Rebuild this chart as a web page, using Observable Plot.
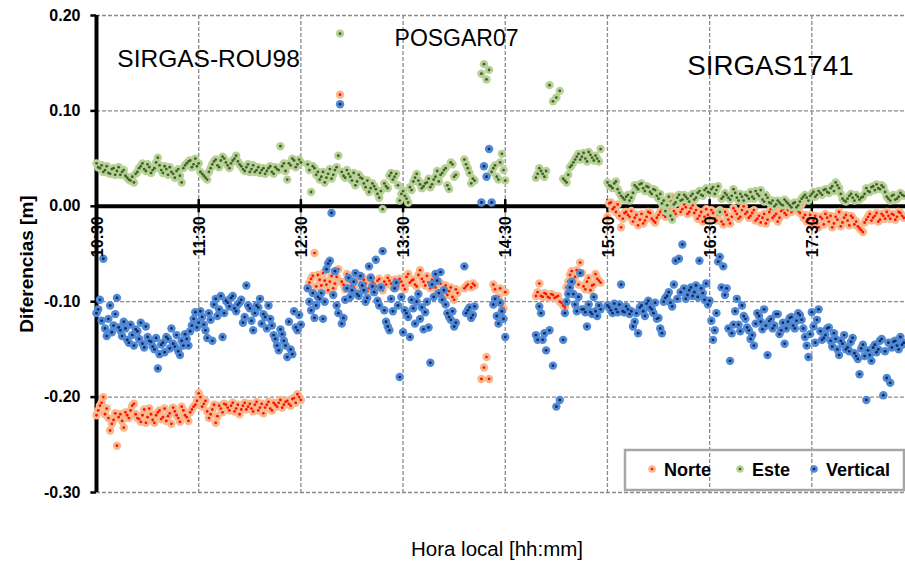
<!DOCTYPE html>
<html><head><meta charset="utf-8">
<script src="https://cdn.jsdelivr.net/npm/d3@7"></script>
<script src="https://cdn.jsdelivr.net/npm/@observablehq/plot@0.6"></script>
<style>body{margin:0;background:#fff}#chart{width:905px;height:565px}</style>
</head><body><div id="chart"></div>
<script>
// epochs: minutes after 10:30 local time (even-minute block)
const times = [
0,2,4,6,8,10,12,14,16,18,20,22,24,26,28,30,32,34,36,38,40,42,44,46,48,50,52,54,56,58,60,
62,64,66,68,70,72,74,76,78,80,82,84,86,88,90,92,94,96,98,100,102,104,106,108,110,112,114,116,118,120,
124,126,128,130,132,134,136,138,140,142,143,144,146,148,150,152,154,156,158,160,162,164,166,168,170,
172,174,176,178,180,182,184,186,188,190,192,194,196,198,200,202,204,206,208,210,212,214,216,218,220,
222,224,226,227.5,229,230.5,232,234,236,238,240,258,260,262,264,266,268,270,272,274,276,278,280,282,
284,286,288,290,292,294,296,
300,302,304,306,308,310,312,314,316,318,320,322,324,326,328,330,332,334,336,338,340,342,344,346,348,
350,352,354,356,358,360,362,364,366,368,370,372,374,376,378,380,382,384,386,388,390,392,394,396,398,
400,402,404,406,408,410,412,414,416,418,420,422,424,426,428,430,432,434,436,438,440,442,444,446,448,
450,452,454,456,458,460,462,464,466,468,470,472,474];

const norte = [
-0.219,-0.209,-0.200,-0.212,-0.235,-0.224,-0.251,-0.218,-0.232,-0.219,
-0.214,-0.207,-0.222,-0.226,-0.213,-0.221,-0.218,-0.227,-0.216,-0.223,
-0.212,-0.220,-0.228,-0.215,-0.222,-0.210,-0.219,-0.225,-0.213,-0.208,
-0.196,-0.210,-0.204,-0.222,-0.213,-0.227,-0.209,-0.216,-0.208,-0.214,
-0.206,-0.212,-0.218,-0.209,-0.213,-0.207,-0.215,-0.205,-0.211,-0.217,
-0.208,-0.212,-0.206,-0.210,-0.203,-0.208,-0.204,-0.209,-0.201,-0.197,
-0.203,
-0.085,-0.076,-0.049,-0.072,-0.083,-0.078,-0.088,-0.073,-0.081,-0.066,0.117,
-0.079,-0.087,-0.075,-0.083,-0.078,-0.090,-0.074,-0.081,-0.086,-0.079,-0.084,-0.076,-0.088,-0.082,
-0.078,-0.085,-0.080,-0.076,-0.083,-0.074,-0.080,-0.077,-0.084,-0.067,-0.079,-0.073,-0.086,-0.082,
-0.090,-0.081,-0.088,-0.093,-0.085,-0.098,-0.091,null,-0.086,-0.082,-0.085,-0.083,null,
-0.181,-0.169,-0.158,-0.181,null,-0.087,-0.095,-0.104,-0.090,
-0.094,-0.081,-0.095,-0.092,-0.096,-0.093,-0.095,-0.100,-0.104,-0.085,-0.072,-0.078,-0.067,-0.059,
-0.084,-0.079,-0.088,-0.082,-0.076,-0.080,
-0.011,0.004,-0.001,0.002,-0.022,-0.007,-0.009,-0.005,-0.012,-0.020,
-0.008,-0.015,-0.006,-0.013,-0.017,-0.009,-0.004,-0.011,-0.002,0.010,
-0.008,0.012,-0.003,-0.001,-0.006,0.001,-0.004,-0.010,-0.016,-0.003,
-0.012,-0.007,-0.015,-0.004,-0.019,-0.009,-0.018,-0.002,-0.008,-0.011,
0.000,-0.006,-0.010,-0.004,-0.013,-0.017,-0.008,-0.014,-0.003,-0.010,
-0.016,-0.005,-0.007,-0.004,-0.006,0.003,-0.005,0.002,-0.009,-0.014,
-0.019,-0.010,-0.022,-0.013,-0.008,-0.016,-0.022,-0.011,-0.006,-0.017,
-0.009,-0.020,-0.012,-0.016,-0.023,-0.027,-0.014,-0.008,-0.012,-0.007,
-0.014,-0.010,-0.006,-0.013,-0.009,-0.011,-0.007,-0.012];

const este = [
0.045,0.040,0.036,0.042,0.034,0.040,0.037,0.033,0.038,0.030,
0.027,0.025,0.036,0.042,0.039,0.044,0.035,0.040,0.051,0.038,
0.042,0.033,0.036,0.030,0.039,0.025,0.043,0.047,0.041,0.050,
0.045,0.034,0.030,0.036,0.044,0.049,0.041,0.052,0.046,0.040,
0.048,0.053,0.044,0.039,0.041,0.036,0.043,0.038,0.035,0.040,
0.037,0.042,0.034,0.039,0.063,0.045,0.028,0.043,0.048,0.044,
0.046,
0.044,0.015,0.040,0.036,0.031,0.025,0.034,0.029,0.038,0.053,0.181,
0.036,0.030,0.034,0.027,0.022,0.033,0.029,0.020,0.015,0.024,0.018,0.009,-0.003,0.021,
0.032,0.028,0.034,0.006,0.016,0.008,0.020,0.026,0.034,0.023,0.021,0.025,0.020,0.028,
0.037,0.033,0.038,0.022,0.046,0.031,null,null,0.049,0.040,0.024,0.027,null,
0.139,0.149,0.133,0.143,0.036,0.043,0.028,0.055,0.027,
0.030,0.040,0.034,0.037,0.127,0.110,0.114,0.121,0.029,0.025,0.041,0.046,0.052,0.049,
0.056,0.047,0.054,0.048,0.050,0.060,
0.025,0.021,0.024,0.018,0.011,0.007,0.012,0.009,0.022,0.018,
0.024,0.016,0.020,0.013,0.017,0.008,0.003,-0.005,0.010,-0.014,
0.004,0.012,0.007,0.010,0.005,0.013,0.009,0.016,0.011,0.019,
0.014,0.020,0.017,-0.006,0.010,0.012,0.007,0.018,0.009,0.013,
0.006,0.011,0.015,0.008,0.013,0.017,0.005,0.009,0.003,0.000,
0.006,0.002,0.007,0.003,-0.001,0.004,0.001,0.008,0.012,0.006,
0.013,0.010,0.016,0.012,0.018,0.014,0.021,0.025,0.019,0.008,
0.005,0.011,0.009,0.012,0.007,0.010,0.019,0.015,0.021,0.023,
0.018,0.020,0.010,0.006,0.012,0.008,0.014,0.011];

const vertical = [
-0.112,-0.098,-0.055,-0.136,-0.104,-0.125,-0.096,-0.130,-0.121,-0.140,
-0.124,-0.146,-0.131,-0.122,-0.148,-0.137,-0.142,-0.150,-0.170,-0.145,
-0.153,-0.139,-0.128,-0.147,-0.152,-0.141,-0.134,-0.146,-0.125,-0.111,
-0.122,-0.116,-0.130,-0.112,-0.141,-0.097,-0.108,-0.137,-0.099,-0.105,
-0.094,-0.110,-0.101,-0.122,-0.083,-0.107,-0.130,-0.104,-0.097,-0.113,
-0.128,-0.118,-0.135,-0.146,-0.129,-0.141,-0.158,-0.150,-0.110,-0.130,
-0.124,
-0.086,-0.109,-0.117,-0.095,-0.091,-0.100,-0.060,-0.007,-0.068,-0.112,0.107,
-0.123,-0.098,-0.075,-0.088,-0.070,-0.094,-0.083,-0.100,-0.063,-0.084,-0.056,-0.104,-0.047,-0.121,
-0.130,-0.110,-0.080,-0.179,-0.132,-0.112,-0.137,-0.107,-0.100,-0.118,-0.129,-0.100,-0.164,-0.095,
-0.078,-0.069,-0.088,-0.112,-0.119,-0.126,null,null,-0.063,-0.109,-0.117,-0.105,null,
0.004,0.042,0.031,0.060,0.004,-0.097,-0.123,-0.110,-0.137,
-0.135,-0.105,-0.140,-0.151,-0.130,-0.167,-0.210,-0.203,-0.140,-0.100,-0.085,-0.092,-0.110,-0.070,
-0.108,-0.126,-0.111,-0.095,-0.115,-0.108,
-0.104,-0.109,-0.102,-0.111,-0.082,-0.111,-0.108,-0.110,-0.121,-0.133,
-0.104,-0.115,-0.099,-0.108,-0.101,-0.117,-0.133,-0.096,-0.090,-0.105,
-0.057,-0.055,-0.040,-0.097,-0.088,-0.094,-0.083,-0.057,-0.091,-0.081,
-0.099,-0.140,-0.112,-0.053,-0.063,-0.086,-0.162,-0.124,-0.097,-0.131,
-0.115,-0.127,-0.139,-0.146,-0.112,-0.121,-0.108,-0.156,-0.118,-0.125,
-0.113,-0.130,-0.144,-0.121,-0.116,-0.128,-0.112,-0.119,-0.137,-0.158,
-0.111,-0.143,-0.108,-0.140,-0.135,-0.127,-0.147,-0.139,-0.156,-0.144,
-0.150,-0.152,-0.138,-0.157,-0.176,-0.145,-0.203,-0.156,-0.148,-0.153,
-0.141,-0.198,-0.180,-0.185,-0.142,-0.146,-0.137,-0.143];

// odd-minute epochs
const timesOdd = [
1,3,5,7,9,11,13,15,17,19,21,23,25,27,29,31,33,35,37,39,41,43,45,47,49,51,53,55,57,59,
61,63,65,67,69,71,73,75,77,79,81,83,85,87,89,91,93,95,97,99,101,103,105,107,109,111,113,115,117,119,
125,127,129,131,133,135,137,139,141,145,147,149,151,153,155,157,159,161,163,165,167,169,171,173,175,
177,179,181,183,185,187,189,191,193,195,197,199,201,203,205,207,209,211,217,219,221,233,235,237,239,
259,261,263,265,267,269,271,273,275,277,279,281,283,285,287,289,291,293,295,
301,303,305,307,309,311,313,315,317,319,321,323,325,327,329,331,333,335,337,339,341,343,345,347,349,
351,353,355,357,359,361,363,365,367,369,371,373,375,377,379,381,383,385,387,389,391,393,395,397,399,
401,403,405,407,409,411,413,415,417,419,421,423,425,427,429,431,433,435,437,439,441,443,445,447,449,
451,453,455,457,459,461,463,465,467,469,471,473];

const norteOdd = [
-0.214,-0.206,-0.218,-0.222,-0.228,-0.217,-0.221,-0.225,-0.216,-0.222,
-0.209,-0.218,-0.223,-0.219,-0.227,-0.212,-0.224,-0.219,-0.214,-0.221,
-0.225,-0.217,-0.211,-0.219,-0.226,-0.214,-0.221,-0.216,-0.210,-0.204,
-0.200,-0.207,-0.215,-0.218,-0.208,-0.220,-0.212,-0.207,-0.211,-0.209,
-0.215,-0.208,-0.213,-0.206,-0.210,-0.212,-0.208,-0.214,-0.207,-0.211,
-0.205,-0.214,-0.208,-0.206,-0.211,-0.205,-0.207,-0.202,-0.206,-0.200,
-0.080,-0.073,-0.084,-0.077,-0.070,-0.082,-0.079,-0.086,-0.074,
-0.082,-0.071,-0.079,-0.085,-0.073,-0.080,-0.077,-0.089,-0.074,-0.081,
-0.078,-0.083,-0.079,-0.075,-0.081,-0.077,-0.084,-0.079,-0.087,-0.071,
-0.078,-0.082,-0.072,-0.076,-0.083,-0.080,-0.077,-0.085,-0.079,-0.094,
-0.083,-0.089,-0.095,-0.087,
-0.084,null,-0.081,
-0.082,-0.100,-0.086,-0.107,
-0.090,-0.094,-0.091,-0.095,-0.092,-0.096,-0.094,-0.101,-0.106,-0.079,
-0.068,-0.074,-0.082,-0.070,-0.087,-0.075,-0.083,-0.071,-0.078,
0.003,-0.003,-0.006,-0.010,-0.013,-0.006,-0.011,-0.016,-0.009,-0.014,
-0.018,-0.011,-0.007,-0.015,-0.012,-0.006,-0.009,-0.003,0.006,-0.005,
0.004,-0.006,0.002,-0.008,-0.002,-0.007,-0.013,-0.006,-0.011,-0.009,
-0.004,-0.013,-0.009,-0.016,-0.006,-0.014,-0.011,-0.005,-0.013,-0.004,
-0.008,-0.012,-0.007,-0.015,-0.010,-0.012,-0.018,-0.006,-0.012,-0.008,
-0.012,-0.003,-0.009,-0.002,-0.004,0.001,-0.007,-0.012,-0.016,-0.009,
-0.015,-0.018,-0.011,-0.019,-0.012,-0.010,-0.018,-0.014,-0.021,-0.012,
-0.015,-0.010,-0.019,-0.021,-0.025,-0.017,-0.011,-0.015,-0.010,-0.016,
-0.008,-0.013,-0.010,-0.008,-0.014,-0.006,-0.010];

const esteOdd = [
0.041,0.043,0.038,0.035,0.039,0.033,0.041,0.036,0.032,0.028,
0.031,0.034,0.040,0.045,0.037,0.041,0.038,0.046,0.043,0.035,
0.039,0.041,0.034,0.037,0.032,0.040,0.045,0.048,0.044,0.042,
0.036,0.032,0.028,0.040,0.047,0.043,0.048,0.050,0.043,0.045,
0.050,0.047,0.042,0.037,0.044,0.039,0.036,0.041,0.038,0.034,
0.040,0.036,0.041,0.038,0.042,0.037,0.045,0.050,0.041,0.049,
0.038,0.042,0.033,0.028,0.036,0.030,0.039,0.033,0.041,
0.032,0.038,0.031,0.035,0.026,0.030,0.024,0.027,0.019,0.021,
0.013,0.016,0.024,0.019,0.035,0.031,0.022,0.013,0.011,0.004,
0.017,0.030,0.027,0.019,0.024,0.029,0.023,0.031,0.026,0.035,
0.040,0.018,0.044,0.033,
0.044,0.035,0.029,
0.040,0.031,0.046,0.038,
0.034,0.037,0.031,null,null,null,null,null,0.027,0.033,
0.043,0.049,0.055,0.052,0.050,0.057,0.051,0.053,0.047,
0.022,0.019,0.026,0.014,0.009,0.010,0.006,0.014,0.020,0.023,
0.019,0.021,0.015,0.018,0.011,0.013,0.006,0.001,-0.010,0.002,
0.009,0.006,0.012,0.008,0.011,0.007,0.014,0.012,0.017,0.015,
0.018,0.013,0.021,0.008,0.014,0.009,0.011,0.014,0.006,0.010,
0.012,0.008,0.010,0.016,0.011,0.007,0.012,0.004,0.006,0.002,
0.004,0.001,0.005,0.001,0.003,-0.001,0.005,0.010,0.009,0.011,
0.015,0.012,0.014,0.017,0.015,0.019,0.016,0.022,0.013,0.006,
0.008,0.013,0.006,0.010,0.009,0.013,0.016,0.020,0.017,0.019,
0.022,0.015,0.008,0.011,0.007,0.010,0.012];

const verticalOdd = [
-0.108,-0.120,-0.128,-0.118,-0.132,-0.113,-0.127,-0.136,-0.128,-0.143,
-0.135,-0.129,-0.139,-0.144,-0.126,-0.141,-0.147,-0.138,-0.155,-0.143,
-0.137,-0.149,-0.144,-0.135,-0.156,-0.146,-0.139,-0.131,-0.118,-0.127,
-0.110,-0.124,-0.138,-0.119,-0.103,-0.115,-0.094,-0.112,-0.101,-0.096,
-0.107,-0.103,-0.098,-0.116,-0.104,-0.120,-0.112,-0.106,-0.123,-0.116,
-0.104,-0.125,-0.139,-0.151,-0.134,-0.146,-0.121,-0.155,-0.127,-0.114,
-0.100,-0.091,-0.104,-0.097,-0.118,-0.066,-0.057,-0.093,-0.104,
-0.117,-0.086,-0.095,-0.079,-0.092,-0.073,-0.088,-0.096,-0.075,-0.090,
-0.099,-0.085,-0.109,-0.126,-0.097,-0.086,-0.104,-0.095,-0.109,-0.116,
-0.098,-0.123,-0.092,-0.106,-0.111,-0.127,-0.082,-0.071,-0.091,-0.098,
-0.103,-0.116,-0.110,-0.122,
-0.112,-0.106,-0.114,
-0.103,-0.115,-0.101,-0.118,
-0.140,-0.112,-0.133,null,null,null,null,null,-0.112,-0.092,
-0.079,-0.103,-0.095,-0.108,-0.111,-0.103,-0.113,-0.110,-0.104,
-0.106,-0.112,-0.108,-0.103,-0.110,-0.105,-0.113,-0.126,-0.112,-0.106,
-0.110,-0.102,-0.106,-0.112,-0.118,-0.128,-0.100,-0.094,-0.101,-0.082,
-0.097,-0.090,-0.086,-0.093,-0.085,-0.090,-0.095,-0.086,-0.098,-0.103,
-0.120,-0.130,-0.058,-0.085,-0.093,-0.128,-0.133,-0.110,-0.124,-0.104,
-0.118,-0.130,-0.135,-0.123,-0.115,-0.129,-0.125,-0.120,-0.128,-0.113,
-0.134,-0.122,-0.128,-0.117,-0.125,-0.120,-0.114,-0.128,-0.146,-0.134,
-0.126,-0.119,-0.131,-0.138,-0.128,-0.141,-0.133,-0.150,-0.141,-0.135,
-0.148,-0.142,-0.154,-0.160,-0.149,-0.157,-0.151,-0.162,-0.145,-0.150,
-0.139,-0.152,-0.143,-0.148,-0.141,-0.150,-0.145];

const hourTicks = [0,60,120,180,240,300,360,420];
const hourLabels = ["10:30","11:30","12:30","13:30","14:30","15:30","16:30","17:30"];
const yTicks = [0.2,0.1,0,-0.1,-0.2,-0.3];
const yLabels = ["0.20","0.10","0.00","-0.10","-0.20","-0.30"];
const frameNames = ["SIRGAS-ROU98","POSGAR07","SIRGAS1741"];
const frameT = [65.8,211.4,395.7];
const frameV = [0.154,0.1754,0.1471];
const frameSize = [24.5,23,27.7];
const seriesNames = ["Norte","Este","Vertical"];
const haloColors = ["#f8b88e","#b7d196","#5189d4"];
const coreColors = ["#ff1200","#3f6127","#0b2a66"];

const allTimes = times.concat(timesOdd);
const seriesValues = [norte.concat(norteOdd), este.concat(esteOdd), vertical.concat(verticalOdd)];
const FONT = "'Liberation Sans', Arial, sans-serif";

const seriesMarks = seriesValues.flatMap((vals, s) => {
  const pts = allTimes.map((t, i) => ({t, v: vals[i]})).filter(d => d.v != null)
    .sort((a, b) => a.t - b.t);
  return [
    Plot.dot(pts, {x: "t", y: "v", r: 4.2, fill: haloColors[s], stroke: "none"}),
    Plot.dot(pts, {x: "t", y: "v", r: 1.4, fill: coreColors[s], stroke: "none"})
  ];
});

const labelsData = frameNames.map((n, i) => ({n, t: frameT[i], v: frameV[i], s: frameSize[i]}));

const svg = Plot.plot({
  width: 905, height: 565,
  marginLeft: 96, marginRight: 0, marginTop: 15, marginBottom: 73,
  x: {domain: [0, 475], axis: null},
  y: {domain: [-0.3, 0.2], axis: null},
  style: {fontFamily: FONT, background: "white"},
  marks: [
    Plot.ruleY(yTicks, {stroke: "#8a8a8a", strokeWidth: 1.3, strokeDasharray: "4,2"}),
    Plot.ruleX(hourTicks.slice(1), {stroke: "#8a8a8a", strokeWidth: 1.3, strokeDasharray: "4,2"}),
    Plot.ruleY(yTicks, {x1: -3.3, x2: 0, stroke: "black", strokeWidth: 2.5}),
    Plot.ruleX(hourTicks, {y1: -0.007, y2: 0.007, stroke: "black", strokeWidth: 2.5}),
    Plot.ruleY([0], {stroke: "black", strokeWidth: 4}),
    Plot.ruleX([0], {stroke: "black", strokeWidth: 4}),
    ...seriesMarks,
    Plot.text(yTicks, {x: 0, y: d => d, text: (d, i) => yLabels[i], textAnchor: "end", dx: -16,
      fontSize: 16, fontWeight: "bold", fill: "black"}),
    Plot.text(hourTicks, {x: d => d, y: 0, text: (d, i) => hourLabels[i], rotate: -90,
      textAnchor: "end", lineAnchor: "middle", dy: 10, dx: 1,
      fontSize: 16, fontWeight: "bold", fill: "black"}),
    ...labelsData.map(d => Plot.text([d], {x: "t", y: "v", text: "n", fontSize: d.s,
      lineAnchor: "middle", fill: "black"})),
    Plot.text(["Diferencias [m]"], {frameAnchor: "left", rotate: -90, dx: -70, dy: 10,
      textAnchor: "middle", fontSize: 19, fontWeight: "bold", lineAnchor: "middle", fill: "black"}),
    Plot.text(["Hora local [hh:mm]"], {frameAnchor: "bottom", dy: 57, dx: -4,
      fontSize: 20.5, lineAnchor: "middle", fill: "black"})
  ]
});

// legend
const g = d3.select(svg).append("g");
g.append("rect").attr("x", 625).attr("y", 450).attr("width", 279).attr("height", 40)
  .attr("fill", "none").attr("stroke", "#a6a6a6").attr("stroke-width", 2.5);
const lx = [652, 740, 814];
seriesNames.forEach((name, i) => {
  g.append("circle").attr("cx", lx[i]).attr("cy", 469).attr("r", 3.8).attr("fill", haloColors[i]);
  g.append("circle").attr("cx", lx[i]).attr("cy", 469).attr("r", 1.3).attr("fill", coreColors[i]);
  g.append("text").attr("x", lx[i] + 12).attr("y", 476).text(name)
    .attr("text-anchor", "start")
    .attr("font-family", FONT).attr("font-weight", "bold").attr("font-size", 18).attr("fill", "black");
});

document.getElementById("chart").appendChild(svg);
</script></body></html>
